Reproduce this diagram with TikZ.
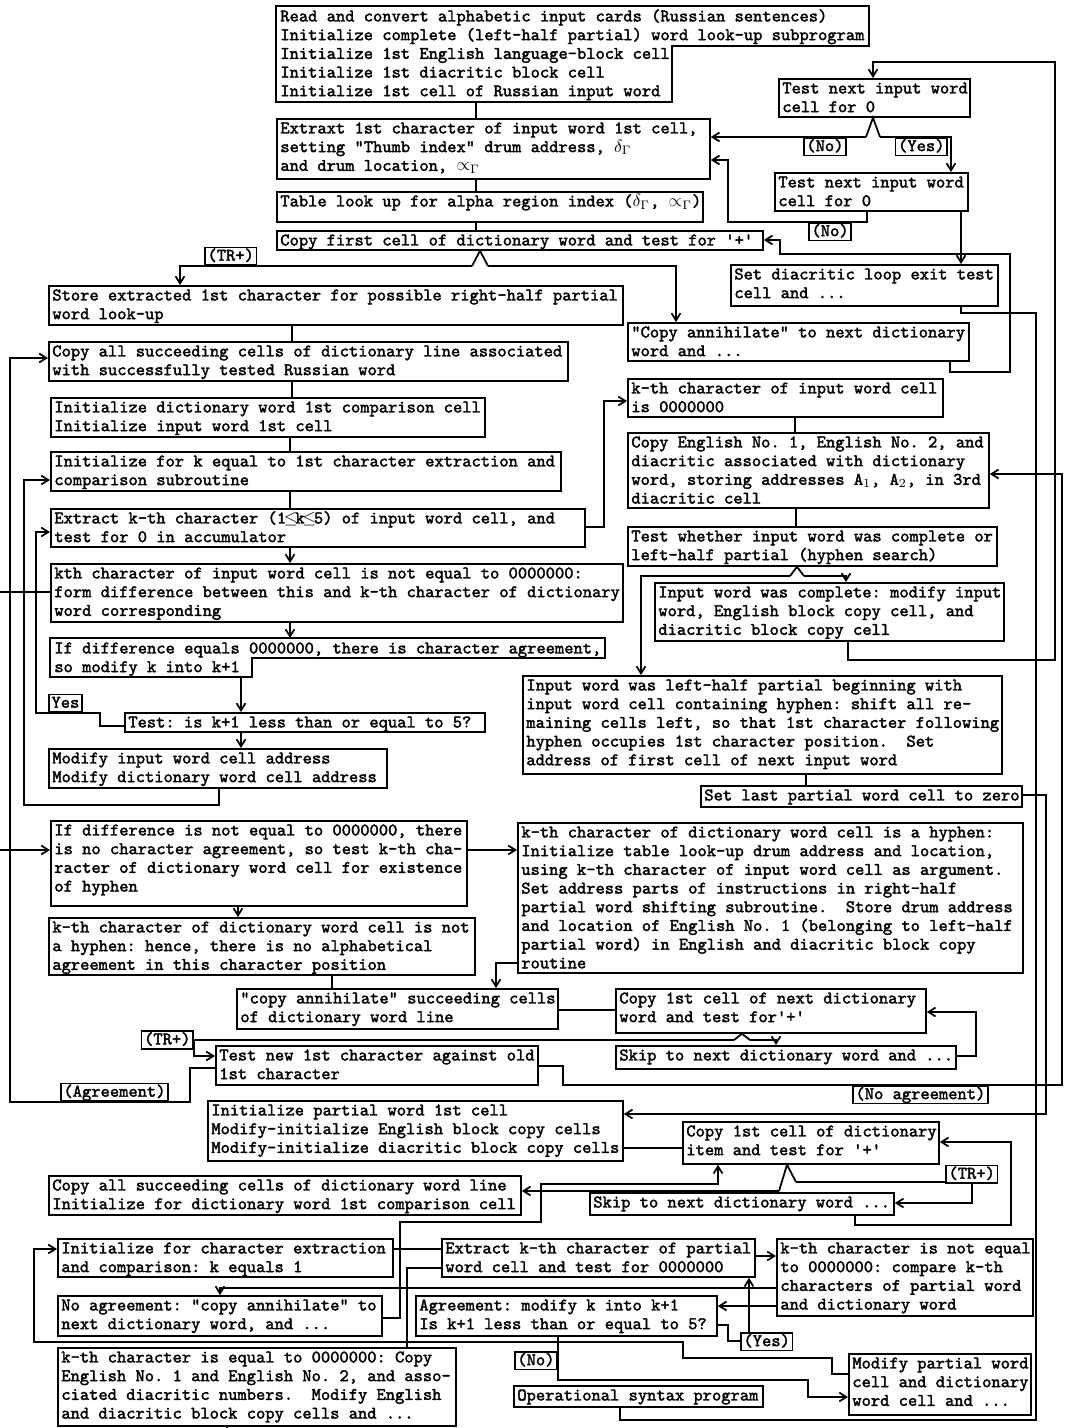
\documentclass[tikz,border=0pt]{standalone}
\usepackage{fontspec}
\usetikzlibrary{arrows.meta}
\newfontfamily\twfont{lmmono10-regular.otf}[FakeBold=2]
\newcommand\tfont{\fontsize{10}{10.59}\selectfont\twfont\frenchspacing}
\newcommand\U{0.5663pt}
\newcommand\mle{\makebox[0.525em]{$\leq$}}
\tikzset{
 box/.style={draw, line width=1pt, inner sep=0pt, anchor=north west},
 ghost/.style={inner sep=0pt, anchor=north west},
 txt/.style={anchor=north west, inner sep=0pt, align=left, font=\tfont},
 lbl/.style={draw, fill=white, line width=1pt, font=\tfont, inner xsep=1.5pt, inner ysep=0.5pt, text height=7pt, text depth=2pt},
 ln/.style={line width=1pt},
 ar/.style={line width=1pt, -{Straight Barb[length=4pt,width=5pt]}},
}
\newcommand\bx[6]{%
 \node[box, minimum width={(#4-#2)*\U}, minimum height={(#5-#3)*\U}] (#1) at (#2,#3) {};
 \node[txt] (#1t) at ({#2+4},{#3+2}) {\strut #6};}
\begin{document}
\begin{tikzpicture}[x=0.5663pt, y=-0.5663pt]
\fill[white] (0,0) rectangle (1064,1428);
\useasboundingbox (0,0) rectangle (1064,1428);

% ---------- irregular boxes ----------
\node[ghost, minimum width={(868-276)*\U}, minimum height={(101-6)*\U}] (B1) at (276,6) {};
\node[txt] (B1t) at (280,8) {\strut Read and convert alphabetic input cards (Russian sentences)\\ Initialize complete (left-half partial) word look-up subprogram\\ Initialize 1st English language-block cell\\ Initialize 1st diacritic block cell\\ Initialize 1st cell of Russian input word};
\draw[ln] (B1.north west) -- (B1.north east) -- (B1.north east |- 0,46) -- (672,46) -- (672,0 |- B1.south) -- (B1.south west) -- cycle;

\node[ghost, minimum width={(604-50)*\U}, minimum height={(676-638)*\U}] (B17) at (50,638) {};
\node[txt] (B17t) at (54,640) {\strut If difference equals 0000000, there is character agreement,\\ so modify k into k+1};
\draw[ln] (B17.north west) -- (B17.north east) -- (B17.north east |- 0,658) -- (252,658) -- (252,0 |- B17.south) -- (B17.south west) -- cycle;

% ---------- boxes ----------
\bx{B2}{276}{118}{709}{178}{Extraxt 1st character of input word 1st cell,\\ setting "Thumb index" drum address, $\delta_{\Gamma}$\\ and drum location, $\propto_{\Gamma}$}
\bx{B3}{276}{191}{702}{221}{Table look up for alpha region index ($\delta_{\Gamma}$, $\propto_{\Gamma}$)}
\bx{B4}{276}{230}{762}{249}{Copy first cell of dictionary word and test for '+'}
\bx{B5}{48}{285}{622}{324}{Store extracted 1st character for possible right-half partial\\ word look-up}
\bx{B6}{627}{322}{968}{360}{"Copy annihilate" to next dictionary\\ word and ...}
\bx{B7}{778}{78}{969}{116}{Test next input word\\ cell for 0}
\bx{B8}{774}{172}{967}{210}{Test next input word\\ cell for 0}
\bx{B9}{730}{264}{997}{305}{Set diacritic loop exit test\\ cell and ...}
\bx{B10}{48}{341}{567}{380}{Copy all succeeding cells of dictionary line associated\\ with successfully tested Russian word}
\bx{B11}{50}{397}{484}{436}{Initialize dictionary word 1st comparison cell\\ Initialize input word 1st cell}
\bx{B12}{50}{451}{560}{490}{Initialize for k equal to 1st character extraction and\\ comparison subroutine}
\bx{B13}{50}{508}{584}{546}{Extract k-th character (1\mle k\mle 5) of input word cell, and\\ test for 0 in accumulator}
\bx{B14}{627}{378}{942}{416}{k-th character of input word cell\\ is 0000000}
\bx{CE}{627}{432}{988}{507}{Copy English No. 1, English No. 2, and\\ diacritic associated with dictionary\\ word, storing addresses A$_1$, A$_2$, in 3rd\\ diacritic cell}
\bx{TW}{627}{526}{996}{565}{Test whether input word was complete or\\ left-half partial (hyphen search)}
\bx{B16}{50}{563}{622}{621}{kth character of input word cell is not equal to 0000000:\\ form difference between this and k-th character of dictionary\\ word corresponding}
\bx{IC}{654}{582}{1003}{640}{Input word was complete: modify input\\ word, English block copy cell, and\\ diacritic block copy cell}
\bx{LH}{522}{675}{1001}{773}{Input word was left-half partial beginning with\\ input word cell containing hyphen: shift all re-\\ maining cells left, so that 1st character following\\ hyphen occupies 1st character position.\ \ Set\\ address of first cell of next input word}
\bx{B18}{124}{712}{484}{731}{Test: is k+1 less than or equal to 5?}
\bx{B19}{48}{748}{386}{787}{Modify input word cell address\\ Modify dictionary word cell address}
\bx{SZ}{700}{785}{1021}{806}{Set last partial word cell to zero}
\bx{B20}{50}{820}{466}{905}{If difference is not equal to 0000000, there\\ is no character agreement, so test k-th cha-\\ racter of dictionary word cell for existence\\ of hyphen}
\bx{B21}{517}{822}{1022}{972}{k-th character of dictionary word cell is a hyphen:\\ Initialize table look-up drum address and location,\\ using k-th character of input word cell as argument.\\ Set address parts of instructions in right-half\\ partial word shifting subroutine.\ \ Store drum address\\ and location of English No. 1 (belonging to left-half\\ partial word) in English and diacritic block copy\\ routine}
\bx{B22}{48}{917}{474}{974}{k-th character of dictionary word cell is not\\ a hyphen: hence, there is no alphabetical\\ agreement in this character position}
\bx{B23}{236}{988}{557}{1028}{"copy annihilate" succeeding cells\\ of dictionary word line}
\bx{B24}{615}{988}{925}{1032}{Copy 1st cell of next dictionary\\ word and test for'+'}
\bx{B25}{615}{1045}{955}{1068}{Skip to next dictionary word and ...}
\bx{B26}{215}{1045}{537}{1084}{Test new 1st character against old\\ 1st character}
\bx{B27}{207}{1100}{622}{1160}{Initialize partial word 1st cell\\ Modify-initialize English block copy cells\\ Modify-initialize diacritic block copy cells}
\bx{B28}{682}{1121}{938}{1163}{Copy 1st cell of dictionary\\ item and test for '+'}
\bx{B29}{48}{1175}{520}{1214}{Copy all succeeding cells of dictionary word line\\ Initialize for dictionary word 1st comparison cell}
\bx{B30}{589}{1192}{893}{1214}{Skip to next dictionary word ...}
\bx{B31}{57}{1238}{392}{1276}{Initialize for character extraction\\ and comparison: k equals 1}
\bx{B33}{441}{1238}{754}{1276}{Extract k-th character of partial\\ word cell and test for 0000000}
\bx{B34}{776}{1238}{1032}{1315}{k-th character is not equal\\ to 0000000: compare k-th\\ characters of partial word\\ and dictionary word}
\bx{B32}{57}{1295}{381}{1335}{No agreement: "copy annihilate" to\\ next dictionary word, and ...}
\bx{B36}{415}{1295}{716}{1335}{Agreement: modify k into k+1\\ Is k+1 less than or equal to 5?}
\bx{B37}{848}{1353}{1030}{1414}{Modify partial word\\ cell and dictionary\\ word cell and ...}
\bx{OSP}{513}{1385}{762}{1406}{Operational syntax program}
\bx{B35}{57}{1347}{455}{1425}{k-th character is equal to 0000000: Copy\\ English No. 1 and English No. 2, and asso-\\ ciated diacritic numbers.\ \ Modify English\\ and diacritic block copy cells and ...}

\coordinate (in1) at (0,592);
\coordinate (in2) at (0,850);
\coordinate (out1) at (227,1428);

% ---------- connectors (top part) ----------
\draw[ln] (476,0 |- B1.south) -- (476,0 |- B2.north);
\draw[ln] (476,0 |- B2.south) -- (476,0 |- B3.north);
\draw[ln] (476,0 |- B3.south) -- (476,0 |- B4.north);
% B4 branch
\draw[ln] (472,266) -- (480,0 |- B4.south) -- (488,266);
\draw[ar] (472,266) -- (180,266) -- (180,0 |- B5.north);
\draw[ar] (488,266) -- (676,266) -- (676,0 |- B6.north);
% B7 branch
\draw[ln] (866,137) -- (873,0 |- B7.south) -- (880,137);
\draw[ar] (866,137) -- (B2.east |- 0,137);
\draw[ar] (880,137) -- (951,137) -- (951,0 |- B8.north);
% B8 no -> B2
\draw[ar] (867,0 |- B8.south) -- (867,222) -- (728,222) -- (728,160) -- (B2.east |- 0,160);
\draw[ar] (961,0 |- B8.south) -- (961,0 |- B9.north);
% B6 loop -> B4
\draw[ar] (950,0 |- B6.south) -- (950,372) -- (1010,372) -- (1010,254) -- (780,254) -- (780,240) -- (B4.east |- 0,240);
% input word complete -> B7
\draw[ar] (848,0 |- IC.south) -- (848,660) -- (1055,660) -- (1055,62) -- (873,62) -- (873,0 |- B7.north);
% B9 -> operational syntax program
\draw[ln] (961,0 |- B9.south) -- (961,313) -- (1036,313) -- (1036,1420) -- (620,1420) -- (620,0 |- OSP.south);

% left column
\draw[ln] (292,0 |- B5.south) -- (292,0 |- B10.north);
\draw[ln] (292,0 |- B10.south) -- (292,0 |- B11.north);
\draw[ln] (290,0 |- B11.south) -- (290,0 |- B12.north);
\draw[ln] (290,0 |- B12.south) -- (290,0 |- B13.north);
\draw[ar] (290,0 |- B13.south) -- (290,0 |- B16.north);
\draw[ar] (290,0 |- B16.south) -- (290,0 |- B17.north);
\draw[ar] (241,0 |- B17.south) -- (241,0 |- B18.north);
\draw[ar] (241,0 |- B18.south) -- (241,0 |- B19.north);
\draw[ar] (219,0 |- B19.south) -- (219,805) -- (24,805) -- (24,480) -- (B12.west |- 0,480);
\draw[ar] (B18.west |- 0,726) -- (100,726) -- (100,713) -- (36,713) -- (36,532) -- (B13.west |- 0,532);
\draw[ar] (B26.west |- 0,1068) -- (190,1068) -- (190,1102) -- (10,1102) -- (10,358) -- (B10.west |- 0,358);
\draw[ar] (B13.east |- 0,527) -- (604,527) -- (604,401) -- (B14.west |- 0,401);
\draw[ln] (in1) -- (B16.west |- in1);
\draw[ar] (in2) -- (B20.west |- in2);

% right column
\draw[ln] (795,0 |- B14.south) -- (795,0 |- CE.north);
\draw[ln] (796,0 |- CE.south) -- (796,0 |- TW.north);
\draw[ln] (790,576) -- (797,0 |- TW.south) -- (804,576);
\draw[ar] (790,576) -- (641,576) -- (641,0 |- LH.north);
\draw[ar] (804,576) -- (846,576) -- (846,0 |- IC.north);
\draw[ln] (806,0 |- LH.south) -- (806,0 |- SZ.north);
\draw[ar] (SZ.east |- 0,795) -- (1046,795) -- (1046,1114) -- (B27.east |- 0,1114);
\draw[ar] (B26.east |- 0,1066) -- (563,1066) -- (563,1085) -- (1062,1085) -- (1062,474) -- (CE.east |- 0,474);

% middle part
\draw[ar] (B20.east |- 0,850) -- (B21.west |- 0,850);
\draw[ar] (238,0 |- B20.south) -- (238,0 |- B22.north);
\draw[ln] (332,0 |- B22.south) -- (332,0 |- B23.north);
\draw[ar] (B21.west |- 0,963) -- (496,963) -- (496,0 |- B23.north);
\draw[ln] (B23.east |- 0,1010) -- (B24.west |- 0,1010);
\draw[ln] (734,1040) -- (742,0 |- B24.south) -- (750,1040);
\draw[ar] (750,1040) -- (776,1040) -- (776,0 |- B25.north);
\draw[ar] (734,1040) -- (194,1040) -- (194,1056) -- (B26.west |- 0,1056);
\draw[ar] (B25.east |- 0,1056) -- (976,1056) -- (976,1012) -- (B24.east |- 0,1012);

% lower part
\draw[ln] (B27.east |- 0,1148) -- (B28.west |- 0,1148);
\draw[ln] (779,1191) -- (787,0 |- B28.south) -- (796,1182);
\draw[ar] (779,1191) -- (B29.east |- 0,1191);
\draw[ar] (855,0 |- B30.south) -- (855,1225) -- (1011,1225) -- (1011,1142) -- (B28.east |- 0,1142);
\draw[ar] (B32.east |- 0,1318) -- (400,1318) -- (400,1222) -- (541,1222) -- (541,1184) -- (718,1184) -- (718,0 |- B28.south);
\draw[ln] (B31.east |- 0,1249) -- (B33.west |- 0,1249);
\draw[ln] (B33.west |- 0,1268) -- (407,1268) -- (407,0 |- B35.north);
\draw[ar] (B33.east |- 0,1256) -- (B34.west |- 0,1256);
\draw[ar] (B34.west |- 0,1288) -- (220,1288) -- (220,0 |- B32.north);
\draw[ar] (B34.west |- 0,1306) -- (B36.east |- 0,1306);
\draw[ln] (B36.east |- 0,1325) -- (728,1325) -- (728,1341) -- (740,1341);
\draw[ar] (749,1332) -- (749,0 |- B33.south);
\draw[ar] (B37.west |- 0,1374) -- (832,1374) -- (832,1358) -- (683,1358) -- (683,1342) -- (34,1342) -- (34,1249) -- (B31.west |- 0,1249);
\draw[ar] (558,0 |- B36.south) -- (558,1380) -- (808,1380) -- (808,1397) -- (B37.west |- 0,1397);
\draw[ln] (796,1182) -- (945,1182);
\draw[ln] (227,0 |- B35.south) -- (out1);

% ---------- labels ----------
\node[lbl, anchor=south west] (Ltr1) at (204,266) {(TR+)};
\node[lbl, anchor=north east] (Lno1) at (847,137) {(No)};
\node[lbl, anchor=north east] (Lyes1) at (948,137) {(Yes)};
\node[lbl, anchor=north west] (Lno2) at (808,222) {(No)};
\node[lbl, anchor=south west] (Lyes2) at (48,713) {Yes};
\node[lbl, anchor=east] (Ltr2) at (194,1040) {(TR+)};
\node[lbl, anchor=south west] (Lagr) at (60,1102) {(Agreement)};
\node[lbl, anchor=north west] (Lnoagr) at (852,1085) {(No agreement)};
\node[lbl, anchor=south west] (Ltr3) at (945,1184) {(TR+)};
\node[lbl, anchor=north west] (Lyes3) at (740,1332) {(Yes)};
\node[lbl, anchor=north east] (Lno3) at (558,1351) {(No)};
\draw[ar] (Ltr3.south) -- (Ltr3.south |- 0,1203) -- (B30.east |- 0,1203);
\end{tikzpicture}
\end{document}
